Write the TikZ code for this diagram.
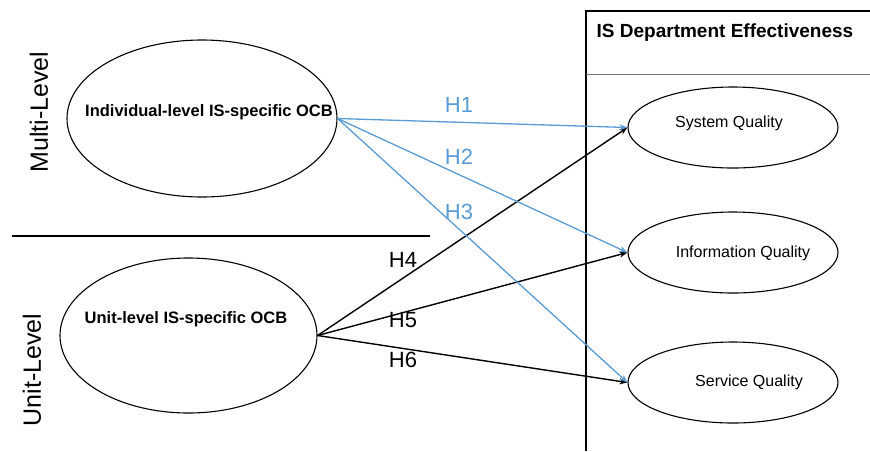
\documentclass[tikz,border=0pt]{standalone}
\usepackage{fontspec}
\setmainfont{Liberation Sans}
\usetikzlibrary{shapes.geometric,arrows.meta}
\definecolor{hypBlue}{RGB}{91,155,213}
\begin{document}
\begin{tikzpicture}
[x=1pt,y=-1pt,%
  constructDecorate/.style={shape=ellipse,draw,line width=1.1pt,inner sep=0pt},%
  qualityDecorate/.style={shape=ellipse,draw,line width=1.1pt,inner sep=0pt,minimum width=210pt,minimum height=81pt},%
  pathBlue/.style={-{Stealth[length=8pt,width=6pt]},line width=1.3pt,hypBlue},%
  pathBlack/.style={-{Stealth[length=8pt,width=6pt]},line width=1.4pt,black},%
  hypLabel/.style={font=\fontsize{22}{24}\selectfont},%
  levelLabel/.style={font=\fontsize{25}{28}\selectfont,rotate=90}]
\useasboundingbox (0,0) rectangle (870,451);
%% outcome box on the right
\draw [line width=1.1pt] (870,11) -- (586,11) -- (586,451);
\draw [line width=0.9pt,black!55] (586,74) -- (870,74);
\node (title) at (725,33) [font=\bfseries\fontsize{19}{21}\selectfont] {IS Department Effectiveness};
%% level separator and level labels
\draw [line width=2.8pt] (12,236) -- (430,236);
\node (multi) at (39,112) [levelLabel] {Multi-Level};
\node (unitlvl) at (32,370) [levelLabel] {Unit-Level};
%% antecedents
\node (ind) at (202,118.5) [constructDecorate,minimum width=270pt,minimum height=157pt] {};
\node at (209,112) [font=\bfseries\fontsize{16.5}{18}\selectfont] {Individual-level IS-specific OCB};
\node (unit) at (188.5,335.5) [constructDecorate,minimum width=257pt,minimum height=155pt] {};
\node at (186,319) [font=\bfseries\fontsize{16.5}{18}\selectfont] {Unit-level IS-specific OCB};
%% outcomes
\node (sys) at (733,127.5) [qualityDecorate] {};
\node at (729,123) [font=\fontsize{16}{18}\selectfont] {System Quality};
\node (info) at (733,252.5) [qualityDecorate] {};
\node at (743,253) [font=\fontsize{16}{18}\selectfont] {Information Quality};
\node (serv) at (733,382.5) [qualityDecorate] {};
\node at (749,382) [font=\fontsize{16}{18}\selectfont] {Service Quality};
%% hypotheses
\draw [pathBlack] (unit.east) -- (sys.west);
\draw [pathBlack] (unit.east) -- (info.west);
\draw [pathBlack] (unit.east) -- (serv.west);
\draw [pathBlue] (ind.east) -- (sys.west);
\draw [pathBlue] (ind.east) -- (info.west);
\draw [pathBlue] (ind.east) -- (serv.west);
\node (h1) at (459,105) [hypLabel,hypBlue] {H1};
\node (h2) at (459,157) [hypLabel,hypBlue] {H2};
\node (h3) at (459,212) [hypLabel,hypBlue] {H3};
\node (h4) at (403,260) [hypLabel] {H4};
\node (h5) at (403,320) [hypLabel] {H5};
\node (h6) at (403,360) [hypLabel] {H6};
\end{tikzpicture}
\end{document}
